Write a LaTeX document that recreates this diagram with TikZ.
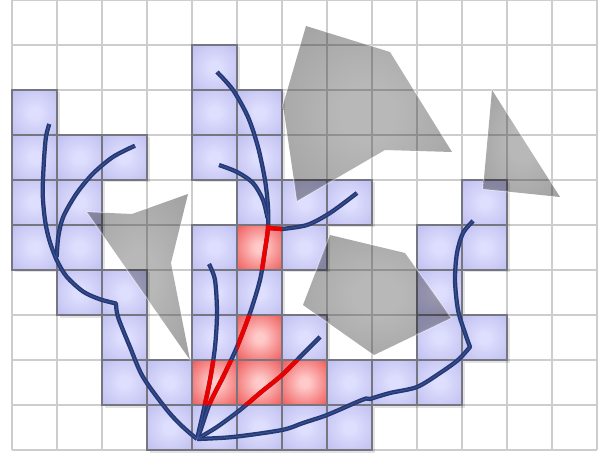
\documentclass[tikz,border=0pt]{standalone}
\usetikzlibrary{calc}
\definecolor{gridc}{RGB}{205,205,205}
\definecolor{cellborder}{RGB}{118,118,128}
\definecolor{cellin}{RGB}{222,222,254}
\definecolor{cellout}{RGB}{186,186,238}
\definecolor{redin}{RGB}{255,202,202}
\definecolor{redout}{RGB}{238,80,80}
\definecolor{polyin}{RGB}{184,184,184}
\definecolor{polyout}{RGB}{154,154,154}
\definecolor{navy}{RGB}{36,56,116}
\definecolor{navyhi}{RGB}{70,92,158}
\definecolor{pathred}{RGB}{235,0,0}
\pgfdeclareradialshading{bluecell}{\pgfpoint{0bp}{0bp}}{color(0bp)=(cellin); color(6bp)=(cellin); color(40bp)=(cellout); color(50bp)=(cellout)}
\pgfdeclareradialshading{redcell}{\pgfpoint{0bp}{0bp}}{color(0bp)=(redin); color(5bp)=(redin); color(38bp)=(redout); color(50bp)=(redout)}
\pgfdeclareradialshading{polyshade}{\pgfpoint{0bp}{0bp}}{color(0bp)=(polyin); color(8bp)=(polyin); color(42bp)=(polyout); color(50bp)=(polyout)}
\tikzset{
  gridline/.style={draw=gridc, line width=1pt},
  cellshadow/.style={fill=black, opacity=0.11},
  bluebox/.style={shading=bluecell, draw=cellborder, line width=0.7pt},
  redbox/.style={shading=redcell, draw=cellborder, line width=0.7pt},
  tube/.style={draw=navy, line width=2.7pt, line join=round},
  tubehi/.style={draw=navyhi, line width=0.6pt, line join=round, opacity=0.7},
  redtube/.style={draw=pathred, line width=2.7pt, line join=round},
  obstacle/.style={shading=polyshade},
  halo/.style={draw=white, line width=1pt, opacity=0.45, line join=round},
}
\newcommand\mytree[1]{%
  \draw[#1] plot[smooth] coordinates {(root) (183,427) (167,410) (143,377) (130,347) (118,317) (kink)}
    -- plot[smooth] coordinates {(kink) (100,299.3) (83.3,291.7) (66.7,276.7) (56.7,260) (49.3,240) (45,220) (42.7,193) (44,160) (46,136.7) (la)};
  \draw[#1] plot[smooth] coordinates {(56.7,257) (58.3,236.7) (63.3,216.7) (76.7,193.3) (93.3,173.3) (113.3,156.7) (lb)};
  \draw[#1] plot[smooth] coordinates {(root) (203,413) (210,380) (215,347) (217,313) (215,280) (mb)};
  \draw[#1] plot[smooth] coordinates {(root) (200,431.7) (210,403) (223,377) (237,347) (250,313) (260,280) (265,250) (J) (268,207) (265,180) (258,147) (248,117) (233,90) (mt)};
  \draw[#1] plot[smooth] coordinates {(ms) (237,172) (253,183) (263,200) (267.5,218)};
  \draw[#1] (J) -- (282,229) -- plot[smooth] coordinates {(282,229) (307,225) (330,213) (mr)};
  \draw[#1] plot[smooth] coordinates {(root) (217,427) (240,410) (260,393) (282,375) (300,357) (md)};
  \draw[#1] plot[smooth] coordinates {(root) (233,437) (282,430) (303,423) (327,415) (357,402) (ek1)}
    -- plot[smooth] coordinates {(370,399) (390,393) (417,387) (440,373) (458,360) (ek2)}
    -- plot[smooth] coordinates {(ek2) (465,333) (458,310) (455,280) (457,253) (463,233) (re)};
}
\begin{document}
\begin{tikzpicture}[x=0.63228pt,y=-0.63228pt]
\useasboundingbox (0,0) rectangle (606,456);
\fill[white] (0,0) rectangle (606,456);
% tree points
\coordinate (root) at (197,439);
\coordinate (kink) at (116,303.5);
\coordinate (la) at (49.3,124);
\coordinate (lb) at (135,145.7);
\coordinate (mb) at (209,264);
\coordinate (J) at (268,228);
\coordinate (mt) at (217,72);
\coordinate (ms) at (219,165);
\coordinate (mr) at (357,193);
\coordinate (md) at (320,337);
\coordinate (ek1) at (366,398.5);
\coordinate (ek2) at (470,347);
\coordinate (re) at (473,221);
% grid
\foreach \i in {0,...,13} \draw[gridline] ({12+45*\i},0) -- ({12+45*\i},450);
\foreach \j in {0,...,10} \draw[gridline] (12,45*\j) -- (597,45*\j);
% cells
\def\bluecells{4/1, 0/2,4/2,5/2, 0/3,1/3,2/3,4/3,5/3, 0/4,1/4,5/4,6/4,7/4,10/4,
  0/5,1/5,4/5,6/5,9/5,10/5, 1/6,2/6,4/6,5/6,9/6, 2/7,4/7,6/7,9/7,10/7,
  2/8,3/8,7/8,8/8,9/8, 3/9,4/9,5/9,6/9,7/9}
\def\redcells{5/5, 5/7, 4/8, 5/8, 6/8}
\foreach \c/\r in \bluecells { \fill[cellshadow] ({14.5+45*\c},{45*\r+2.5}) rectangle ({59.5+45*\c},{45*\r+47.5}); }
\foreach \c/\r in \redcells { \fill[cellshadow] ({14.5+45*\c},{45*\r+2.5}) rectangle ({59.5+45*\c},{45*\r+47.5}); }
\foreach \c/\r in \bluecells { \path[bluebox] ({12+45*\c},{45*\r}) rectangle ({57+45*\c},{45*\r+45}); }
\foreach \c/\r in \redcells { \path[redbox] ({12+45*\c},{45*\r}) rectangle ({57+45*\c},{45*\r+45}); }
% tree (blue)
\mytree{tube}
\mytree{tubehi}
% tree parts inside red cells
\begin{scope}
  \clip (237,225) rectangle (282,270) (237,315) rectangle (282,360) (192,360) rectangle (327,405);
  \mytree{redtube}
\end{scope}
% obstacles
\draw[halo] (306,26) -- (390,52) -- (452,152) -- (385,150) -- (297,201) -- (283,105) -- cycle;
\draw[halo] (492,90) -- (560,197) -- (483,189) -- cycle;
\draw[halo] (87,212) -- (132,214) -- (188,194) -- (171,263) -- (190,360) -- cycle;
\draw[halo] (330,235) -- (405,253) -- (451,318) -- (374,355) -- (303,305) -- cycle;
\begin{scope}[blend mode=multiply]
\path[obstacle] (306,26) -- (390,52) -- (452,152) -- (385,150) -- (297,201) -- (283,105) -- cycle;
\path[obstacle] (492,90) -- (560,197) -- (483,189) -- cycle;
\path[obstacle] (87,212) -- (132,214) -- (188,194) -- (171,263) -- (190,360) -- cycle;
\path[obstacle] (330,235) -- (405,253) -- (451,318) -- (374,355) -- (303,305) -- cycle;
\end{scope}
\end{tikzpicture}
\end{document}
